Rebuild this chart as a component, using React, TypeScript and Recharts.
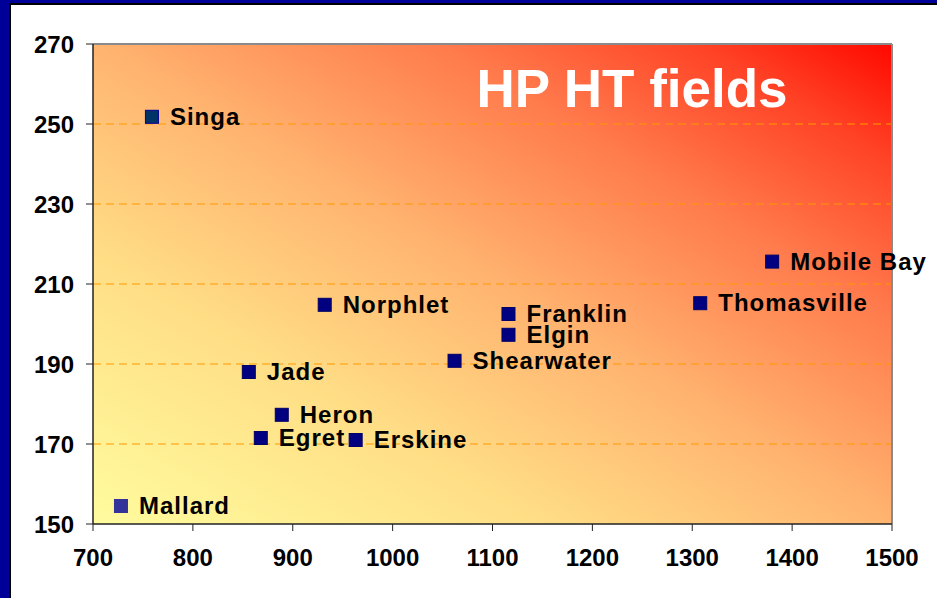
import React from 'react'
import {
  ScatterChart,
  Scatter,
  XAxis,
  YAxis,
  CartesianGrid,
  ReferenceLine,
} from 'recharts'

const FIELD_NAMES = [
  'Singa',
  'Mobile Bay',
  'Thomasville',
  'Norphlet',
  'Franklin',
  'Elgin',
  'Shearwater',
  'Jade',
  'Heron',
  'Egret',
  'Erskine',
  'Mallard',
]
const FIELD_X = [759, 1380, 1308, 932, 1116, 1116, 1062, 856, 889, 868, 963, 728]
const FIELD_Y = [251.8, 215.6, 205.2, 204.8, 202.5, 197.3, 190.8, 188, 177.3, 171.5, 171, 154.5]

const X_TICKS = [700, 800, 900, 1000, 1100, 1200, 1300, 1400, 1500]
const Y_TICKS = [150, 170, 190, 210, 230, 250, 270]
const GRID_Y = [170, 190, 210, 230, 250]

const TITLE = 'HP HT fields'

const FONT = '"Liberation Sans", Arial, sans-serif'

const markerFill: Record<string, string> = {
  Singa: '#003366',
  Mallard: '#333399',
}
const markerStroke: Record<string, string> = {
  Singa: '#000099',
  Mallard: '#333399',
}

const points = FIELD_NAMES.map((name, i) => ({
  name,
  x: FIELD_X[i],
  y: FIELD_Y[i],
}))

function FieldMarker(props: any) {
  const { cx, cy, payload } = props
  if (cx == null || cy == null) return null
  const s = 13
  return (
    <g>
      <rect
        x={cx - s / 2}
        y={cy - s / 2}
        width={s}
        height={s}
        fill={markerFill[payload.name] ?? '#000080'}
        stroke={markerStroke[payload.name] ?? '#000066'}
        strokeWidth={1}
      />
      <text
        x={cx + 18}
        y={cy + 8}
        fill="#000"
        fontFamily={FONT}
        fontWeight="bold"
        fontSize={24}
        letterSpacing={1}
      >
        {payload.name}
      </text>
    </g>
  )
}

export default function App() {
  const tickStyle = {
    fill: '#000',
    fontSize: 24,
    fontWeight: 'bold',
    fontFamily: FONT,
  }
  return (
    <div
      style={{
        position: 'fixed',
        left: 0,
        top: 0,
        width: 937,
        height: 598,
        background: '#fff',
        overflow: 'hidden',
      }}
    >
      <ScatterChart
        width={937}
        height={598}
        margin={{ top: 44, right: 45, left: 0, bottom: 0 }}
      >
        <defs>
          <linearGradient id="plotBg" x1="0" y1="1" x2="1" y2="0">
            <stop offset="0" stopColor="#FFFC9E" />
            <stop offset="0.28" stopColor="#FFDE86" />
            <stop offset="0.5" stopColor="#FFB470" />
            <stop offset="0.72" stopColor="#FF7A4C" />
            <stop offset="0.88" stopColor="#FF4226" />
            <stop offset="1" stopColor="#FF0800" />
          </linearGradient>
        </defs>
        <CartesianGrid
          vertical={false}
          horizontalValues={GRID_Y}
          stroke="#FF9900"
          strokeDasharray="8 5"
          fill="url(#plotBg)"
          fillOpacity={1}
        />
        <XAxis
          type="number"
          dataKey="x"
          domain={[700, 1500]}
          ticks={X_TICKS}
          interval={0}
          height={74}
          tickSize={7}
          tickMargin={18}
          tick={tickStyle}
          stroke="#222"
          axisLine={{ stroke: '#222', strokeWidth: 1.5 }}
          tickLine={{ stroke: '#222' }}
        />
        <YAxis
          type="number"
          dataKey="y"
          domain={[150, 270]}
          ticks={Y_TICKS}
          interval={0}
          width={93}
          tickSize={7}
          tickMargin={12}
          tick={tickStyle}
          stroke="#222"
          axisLine={{ stroke: '#222', strokeWidth: 1.5 }}
          tickLine={{ stroke: '#222' }}
        />
        <ReferenceLine y={270} stroke="#8a8a8a" strokeWidth={2} />
        <ReferenceLine x={1500} stroke="#8a8a8a" strokeWidth={2} />
        <Scatter
          data={points}
          shape={<FieldMarker />}
          isAnimationActive={false}
        />
      </ScatterChart>
      <svg
        width={937}
        height={598}
        style={{ position: 'absolute', left: 0, top: 0, pointerEvents: 'none' }}
      >
        <text
          x={632}
          y={107}
          textAnchor="middle"
          fill="#fff"
          fontFamily={FONT}
          fontWeight="bold"
          fontSize={53}
        >
          {TITLE}
        </text>
        <rect x={0} y={0} width={937} height={3} fill="#000099" />
        <rect x={0} y={0} width={9} height={598} fill="#000099" />
        <rect x={9} y={3} width={928} height={2} fill="#000" />
        <rect x={9} y={3} width={2} height={595} fill="#000" />
      </svg>
    </div>
  )
}
